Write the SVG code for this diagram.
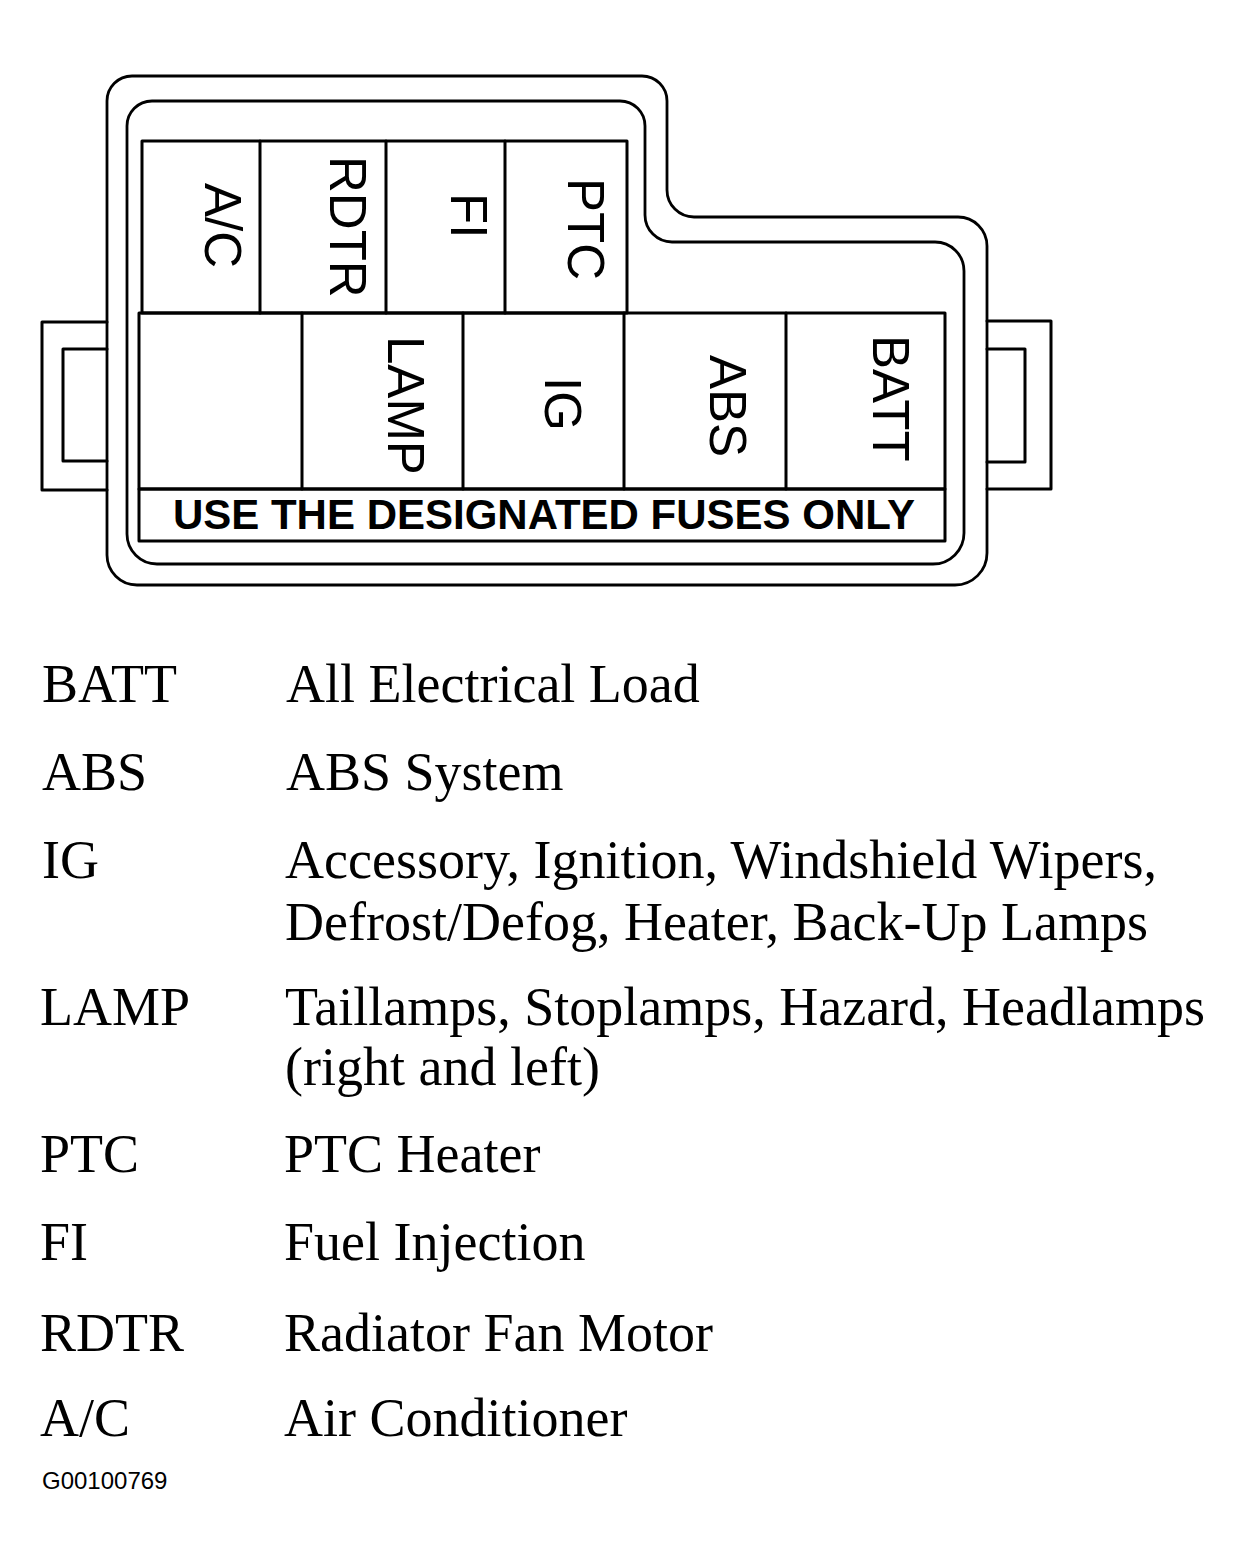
<svg xmlns="http://www.w3.org/2000/svg" width="1244" height="1565" viewBox="0 0 1244 1565">
<style>
.ln{fill:none;stroke:#000;stroke-width:3;stroke-linejoin:round;stroke-linecap:round}
.ol{fill:none;stroke:#000;stroke-width:2.8;stroke-linejoin:round}
.fz{font-family:"Liberation Sans",Arial,sans-serif;font-size:51px;fill:#000}
.warn{font-family:"Liberation Sans",Arial,sans-serif;font-size:42px;font-weight:bold;fill:#000}
.lg{font-family:"Liberation Serif","Times New Roman",serif;font-size:54px;fill:#000}
.ref{font-family:"Liberation Sans",Arial,sans-serif;font-size:24px;fill:#000}
</style>
<rect width="1244" height="1565" fill="#fff"/>
<g id="housing">
<path class="ol" d="M107,101 A25,25 0 0 1 132,76 H642 A25,25 0 0 1 667,101 V190 A27,27 0 0 0 694,217 H958 A29,29 0 0 1 987,246 V553 A32,32 0 0 1 955,585 H137 A30,30 0 0 1 107,555 Z"/>
<path class="ol" d="M127,126 A25,25 0 0 1 152,101 H620 A25,25 0 0 1 645,126 V215 A27,27 0 0 0 672,242 H935 A29,29 0 0 1 964,271 V533 A31,31 0 0 1 933,564 H157 A30,30 0 0 1 127,534 Z"/>
</g>
<g id="tab-left">
<path class="ln" d="M107,322 H42 V490 H107"/>
<path class="ln" d="M107,349 H63 V461 H107"/>
</g>
<g id="tab-right">
<path class="ln" d="M987,321 H1051 V489 H987"/>
<path class="ln" d="M987,349 H1025 V462 H987"/>
</g>
<g id="fuse-grid">
<rect class="ln" x="142" y="141" width="485" height="172"/>
<line class="ln" x1="260" y1="141" x2="260" y2="313"/>
<line class="ln" x1="386" y1="141" x2="386" y2="313"/>
<line class="ln" x1="505" y1="141" x2="505" y2="313"/>
<rect class="ln" x="139" y="313" width="806" height="176"/>
<line class="ln" x1="302" y1="313" x2="302" y2="489"/>
<line class="ln" x1="463" y1="313" x2="463" y2="489"/>
<line class="ln" x1="624" y1="313" x2="624" y2="489"/>
<line class="ln" x1="786" y1="313" x2="786" y2="489"/>
<rect class="ln" x="139" y="489" width="806" height="52"/>
</g>
<g id="fuse-AC"><text class="fz" transform="translate(205,183) rotate(90)">A/C</text></g>
<g id="fuse-RDTR"><text class="fz" transform="translate(330,156) rotate(90)">RDTR</text></g>
<g id="fuse-FI"><text class="fz" transform="translate(451,193) rotate(90)">FI</text></g>
<g id="fuse-PTC"><text class="fz" transform="translate(568,178) rotate(90)">PTC</text></g>
<g id="fuse-LAMP"><text class="fz" transform="translate(388,336) rotate(90)">LAMP</text></g>
<g id="fuse-IG"><text class="fz" transform="translate(545,377) rotate(90)">IG</text></g>
<g id="fuse-ABS"><text class="fz" transform="translate(710,355) rotate(90)">ABS</text></g>
<g id="fuse-BATT"><text class="fz" transform="translate(873,335) rotate(90)">BATT</text></g>
<g id="warning"><text class="warn" x="544" y="529" text-anchor="middle">USE THE DESIGNATED FUSES ONLY</text></g>
<g id="legend">
<text class="lg" x="42" y="702">BATT</text><text class="lg" x="286" y="702">All Electrical Load</text>
<text class="lg" x="42" y="790">ABS</text><text class="lg" x="286" y="790">ABS System</text>
<text class="lg" x="42" y="878">IG</text><text class="lg" x="285" y="878">Accessory, Ignition, Windshield Wipers,</text>
<text class="lg" x="285" y="940">Defrost/Defog, Heater, Back-Up Lamps</text>
<text class="lg" x="40" y="1025">LAMP</text><text class="lg" x="285" y="1025">Taillamps, Stoplamps, Hazard, Headlamps</text>
<text class="lg" x="285" y="1085">(right and left)</text>
<text class="lg" x="40" y="1172">PTC</text><text class="lg" x="284" y="1172">PTC Heater</text>
<text class="lg" x="40" y="1260">FI</text><text class="lg" x="284" y="1260">Fuel Injection</text>
<text class="lg" x="40" y="1351">RDTR</text><text class="lg" x="284" y="1351">Radiator Fan Motor</text>
<text class="lg" x="40" y="1436">A/C</text><text class="lg" x="284" y="1436">Air Conditioner</text>
</g>
<g id="figure-ref"><text class="ref" x="42" y="1489">G00100769</text></g>
</svg>
